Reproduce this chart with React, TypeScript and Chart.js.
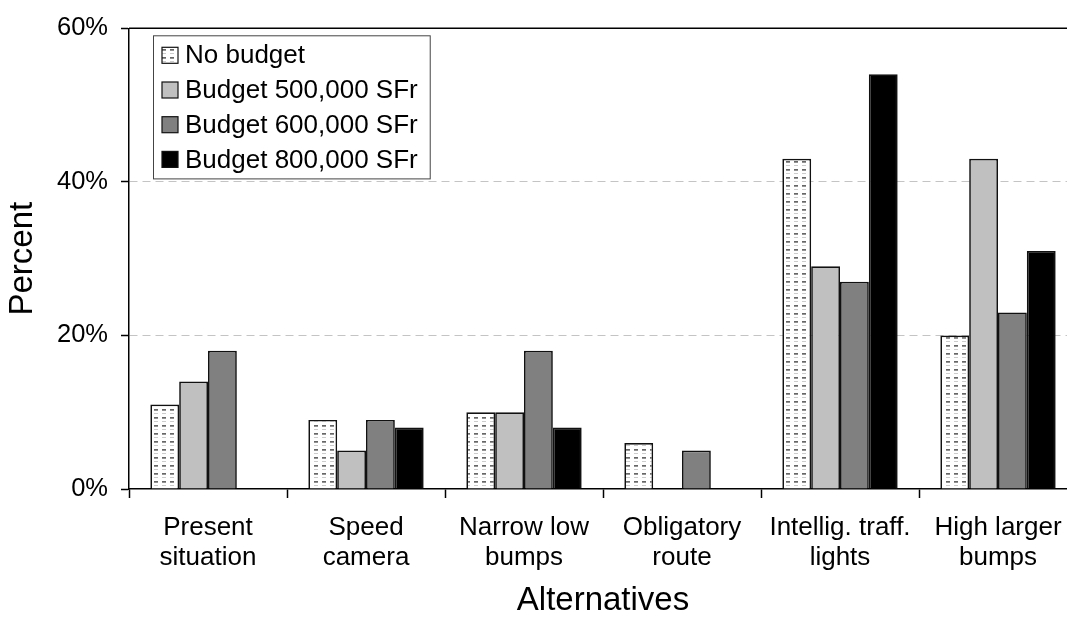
import React, { useEffect, useRef } from "react";
import { Chart, registerables } from "chart.js";

Chart.register(...registerables);

const categories: string[][] = [
  ["Present", "situation"],
  ["Speed", "camera"],
  ["Narrow low", "bumps"],
  ["Obligatory", "route"],
  ["Intellig. traff.", "lights"],
  ["High larger", "bumps"],
];
const seriesLabels = ["No budget", "Budget 500,000 SFr", "Budget 600,000 SFr", "Budget 800,000 SFr"];
const noBudget = [11, 9, 10, 6, 43, 20];
const budget500 = [14, 5, 10, null, 29, 43];
const budget600 = [18, 9, 18, 5, 27, 23];
const budget800 = [null, 8, 8, null, 54, 31];
const yTicks = [0, 20, 40, 60];
const yTitle = "Percent";
const xTitle = "Alternatives";

const FONT = "'Liberation Sans', Arial, sans-serif";

function makePattern(): CanvasPattern | string {
  const c = document.createElement("canvas");
  c.width = 8;
  c.height = 8;
  const g = c.getContext("2d");
  if (!g) return "#ffffff";
  g.fillStyle = "#ffffff";
  g.fillRect(0, 0, 8, 8);
  g.fillStyle = "#666666";
  g.fillRect(2, 1, 4, 1.7);
  g.fillStyle = "#cccccc";
  g.fillRect(2, 5, 4, 1);
  const p = g.createPattern(c, "repeat");
  return p || "#ffffff";
}

export default function App() {
  const ref = useRef<HTMLCanvasElement | null>(null);

  useEffect(() => {
    const canvas = ref.current;
    if (!canvas) return;
    const pattern = makePattern();
    const fills: any[] = [pattern, "#c0c0c0", "#808080", "#000000"];
    const seriesData = [noBudget, budget500, budget600, budget800];

    const framePlugin = {
      id: "frame",
      afterDraw(chart: any) {
        const { ctx, chartArea } = chart;
        ctx.save();
        ctx.strokeStyle = "#000";
        ctx.lineWidth = 1.5;
        ctx.beginPath();
        ctx.moveTo(chartArea.left, chartArea.top);
        ctx.lineTo(chartArea.right, chartArea.top);
        ctx.lineTo(chartArea.right, chartArea.bottom);
        ctx.stroke();

        // legend box
        ctx.font = `26px ${FONT}`;
        const labels = chart.data.datasets.map((d: any) => d.label as string);
        const maxW = Math.max(...labels.map((l: string) => ctx.measureText(l).width));
        const bx = chartArea.left + 24;
        const by = chartArea.top + 7;
        const bw = 32 + maxW + 12;
        const rowH = 34.7;
        const bh = 20 + rowH * (labels.length - 1) + 19;
        ctx.fillStyle = "#fff";
        ctx.fillRect(bx, by, bw, bh);
        ctx.strokeStyle = "#444";
        ctx.lineWidth = 1;
        ctx.strokeRect(bx + 0.5, by + 0.5, bw, bh);
        chart.data.datasets.forEach((d: any, i: number) => {
          const cy = by + 20 + i * rowH;
          ctx.fillStyle = d.backgroundColor;
          ctx.fillRect(bx + 9, cy - 8, 16, 16);
          ctx.strokeStyle = "#111";
          ctx.lineWidth = 1.2;
          ctx.strokeRect(bx + 9, cy - 8, 16, 16);
          ctx.fillStyle = "#000";
          ctx.textBaseline = "middle";
          ctx.textAlign = "left";
          ctx.fillText(d.label, bx + 32, cy + 1);
        });
        ctx.restore();
      },
    };

    const chart = new Chart(canvas, {
      type: "bar",
      data: {
        labels: categories,
        datasets: seriesLabels.map((label, i) => ({
          label,
          data: seriesData[i] as any,
          backgroundColor: fills[i],
          borderColor: "#111111",
          borderWidth: 1.7,
          categoryPercentage: 0.73,
          barPercentage: 1,
        })),
      },
      options: {
        responsive: false,
        animation: false,
        layout: { padding: { top: 25, right: 13, left: 0, bottom: 0 } },
        plugins: { legend: { display: false }, tooltip: { enabled: false } },
        scales: {
          x: {
            offset: true,
            afterFit: (s: any) => {
              s.height = 132;
            },
            grid: {
              offset: true,
              drawOnChartArea: false,
              drawTicks: true,
              tickLength: 9,
              tickColor: "#000",
              tickWidth: 1.5,
              color: "#000",
            },
            border: { display: true, color: "#000", width: 1.5 },
            ticks: {
              color: "#000",
              font: { family: FONT, size: 26, lineHeight: 1.18 },
              padding: 14,
              maxRotation: 0,
              autoSkip: false,
            },
            title: {
              display: true,
              text: xTitle,
              color: "#000",
              font: { family: FONT, size: 33, lineHeight: 1.2 },
              padding: { top: 0, bottom: 0 },
            },
          },
          y: {
            min: 0,
            max: 60,
            afterFit: (s: any) => {
              s.width = 129;
            },
            afterBuildTicks: (s: any) => {
              s.ticks = yTicks.map((v) => ({ value: v }));
            },
            grid: {
              color: (c: any) =>
                c.tick && c.tick.value > 0 && c.tick.value < 60 ? "#c4c4c4" : "rgba(0,0,0,0)",
              lineWidth: 1,
              tickColor: "#000",
              tickLength: 8,
              tickWidth: 1.5,
            },
            border: { display: true, color: "#000", width: 1.5, dash: [8, 5] },
            ticks: {
              color: "#000",
              font: { family: FONT, size: 25.5 },
              padding: 13,
              callback: (v: any) => `${v}%`,
            },
            title: {
              display: true,
              text: yTitle,
              color: "#000",
              font: { family: FONT, size: 33, lineHeight: 1.2 },
              padding: { top: 3, bottom: 0 },
            },
          },
        },
      },
      plugins: [framePlugin],
    });

    return () => chart.destroy();
  }, []);

  return (
    <div
      style={{
        position: "fixed",
        left: 0,
        top: 0,
        width: 1067,
        height: 621,
        overflow: "hidden",
        background: "#fff",
      }}
    >
      <canvas ref={ref} width={1090} height={621} style={{ display: "block" }} />
    </div>
  );
}
